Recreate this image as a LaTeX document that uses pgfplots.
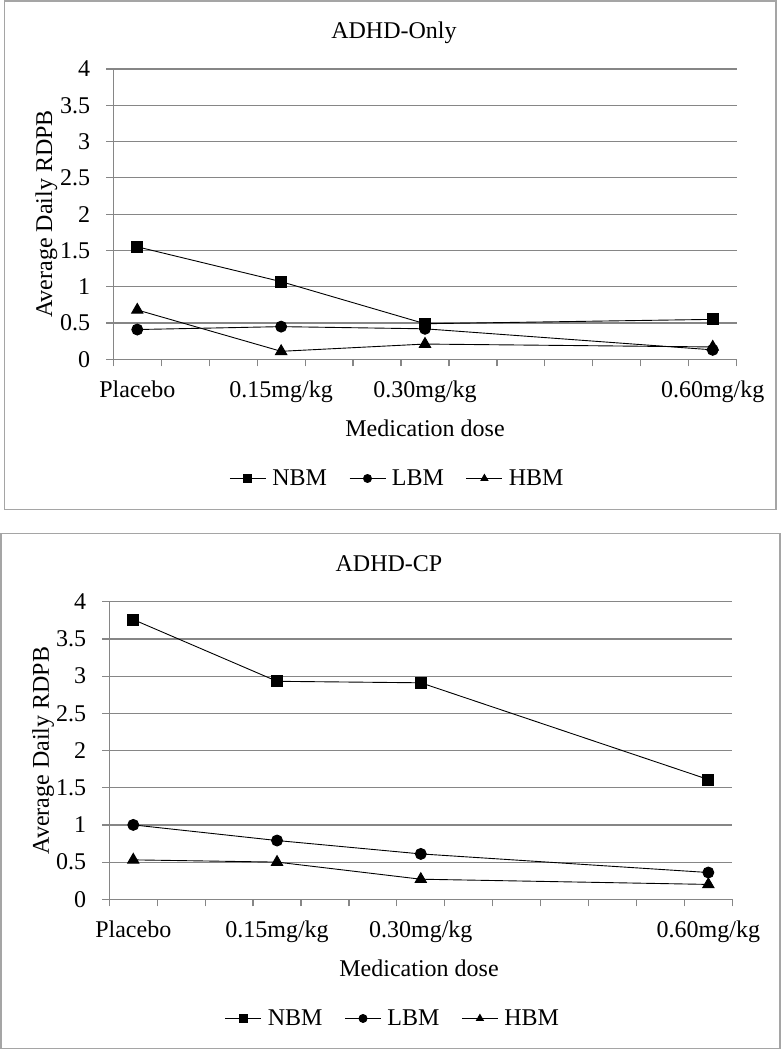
\documentclass[border=0pt]{standalone}
\usepackage{pgfplots}
\pgfplotsset{compat=1.18}
\usepackage{fontspec}
\setmainfont{Liberation Serif}
\definecolor{gridc}{RGB}{134,134,134}
\definecolor{framec}{RGB}{165,165,165}
\newcommand{\bigf}{\fontsize{24}{28}\selectfont}

\pgfplotsset{
  panel/.style={
    scale only axis,
    xmin=0, xmax=13, ymin=0, ymax=4,
    axis x line=bottom, axis y line=left,
    axis line style={-, draw=gridc, line width=1.2pt},
    ytick={0,0.5,1,1.5,2,2.5,3,3.5,4},
    yticklabels={0,0.5,1,1.5,2,2.5,3,3.5,4},
    ymajorgrids, grid style={gridc, line width=1.2pt},
    xtick={0,1,...,13}, xticklabels={},
    extra x ticks={0.5,3.5,6.5,12.5},
    extra x tick labels={Placebo,0.15mg/kg,0.30mg/kg,0.60mg/kg},
    extra x tick style={major tick length=0pt, grid=none,
      xticklabel style={yshift=-21pt}},
    tick align=outside, major tick length=7pt,
    tick style={gridc, line width=1.2pt},
    ticklabel style={font=\bigf, inner sep=0pt},
    yticklabel style={xshift=-16pt},
    /pgf/number format/assume math mode=true,
    legend columns=3,
    legend style={draw=none, fill=none, font=\bigf, inner sep=0pt,
      nodes={inner sep=0pt},
      /tikz/every odd column/.append style={column sep=6pt},
      /tikz/every even column/.append style={column sep=22pt}},
    legend image code/.code={
      \draw[mark repeat=2, mark phase=2, mark size=4pt, #1]
        plot coordinates {(0pt,0pt) (18pt,0pt) (36pt,0pt)};
    },
  },
  nbm/.style={black, line width=0.9pt, mark=square*, mark size=5.5pt, mark options={solid, fill=black}},
  lbm/.style={black, line width=0.9pt, mark=*, mark size=5.5pt, mark options={solid, fill=black}},
  hbm/.style={black, line width=0.9pt, mark=triangle*, mark size=6.5pt, mark options={solid, fill=black}},
}

\begin{document}
\begin{tikzpicture}[x=1pt, y=1pt]
\useasboundingbox (0pt,0pt) rectangle (782pt,1050pt);

% frames
\draw[framec, line width=1.3pt] (4.5pt,540.7pt) rectangle (776pt,1049pt);
\draw[framec, line width=1.3pt] (1pt,1.7pt) rectangle (780pt,516.7pt);

% ---------- top panel ----------
\begin{axis}[panel,
  at={(113.3pt,690.7pt)}, anchor=south west,
  width=623.4pt, height=290.3pt,
  legend style={at={(0.4543,-0.4106)}, anchor=center},
]
\addplot[nbm] coordinates {(0.5,1.55) (3.5,1.07) (6.5,0.49) (12.5,0.55)};
\addlegendentry{NBM}
\addplot[lbm] coordinates {(0.5,0.41) (3.5,0.45) (6.5,0.42) (12.5,0.13)};
\addlegendentry{LBM}
\addplot[hbm] coordinates {(0.5,0.68) (3.5,0.11) (6.5,0.21) (12.5,0.17)};
\addlegendentry{HBM}
\end{axis}
\node[anchor=base, font=\bigf] at (394pt,1011pt) {ADHD-Only};
\node[anchor=base, font=\bigf] at (425pt,613.3pt) {Medication dose};
\node[anchor=base, rotate=90, font=\bigf] at (52pt,836pt) {Average Daily RDPB};

% ---------- bottom panel ----------
\begin{axis}[panel,
  at={(109.3pt,150.7pt)}, anchor=south west,
  width=623pt, height=297.6pt,
  legend style={at={(0.4538,-0.4005)}, anchor=center},
]
\addplot[nbm] coordinates {(0.5,3.76) (3.5,2.93) (6.5,2.91) (12.5,1.61)};
\addlegendentry{NBM}
\addplot[lbm] coordinates {(0.5,1.00) (3.5,0.79) (6.5,0.61) (12.5,0.36)};
\addlegendentry{LBM}
\addplot[hbm] coordinates {(0.5,0.53) (3.5,0.50) (6.5,0.27) (12.5,0.20)};
\addlegendentry{HBM}
\end{axis}
\node[anchor=base, font=\bigf] at (389pt,478pt) {ADHD-CP};
\node[anchor=base, font=\bigf] at (419pt,73.3pt) {Medication dose};
\node[anchor=base, rotate=90, font=\bigf] at (49pt,299.5pt) {Average Daily RDPB};
\end{tikzpicture}
\end{document}
